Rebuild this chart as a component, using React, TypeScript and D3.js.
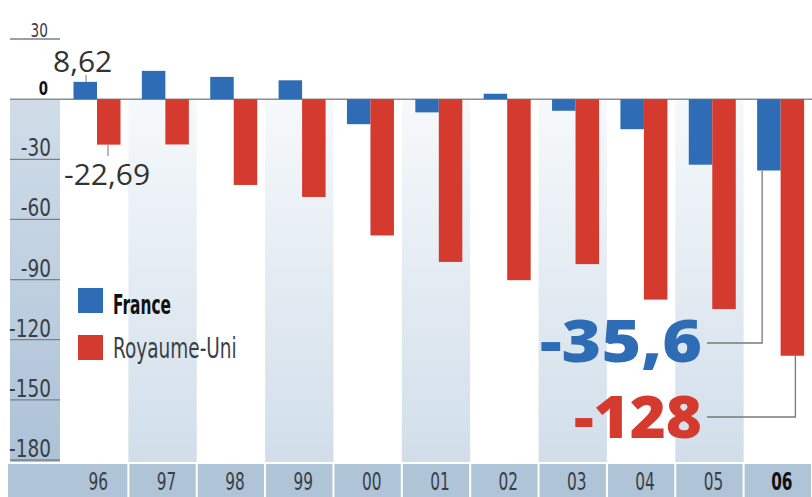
import React from "react";
import * as d3 from "d3";

const years = ["96", "97", "98", "99", "00", "01", "02", "03", "04", "05", "06"];
const france = [8.62, 14.1, 11.1, 9.4, -12.5, -6.6, 2.7, -5.8, -15, -32.7, -35.6];
const royaumeUni = [-22.69, -22.6, -42.8, -48.8, -68, -81.2, -90.3, -82.3, -100, -104.7, -128];
const yTicks = [30, 0, -30, -60, -90, -120, -150, -180];
const seriesNames = ["France", "Royaume-Uni"];

const BLUE = "#2e6db5";
const RED = "#d43b2e";
const FONT = "'DejaVu Sans', sans-serif";

type CondProps = {
  x: number;
  y: number;
  sx: number;
  size: number;
  weight?: number;
  anchor?: "start" | "middle" | "end";
  fill?: string;
  children: React.ReactNode;
};

function Cond({ x, y, sx, size, weight = 400, anchor = "start", fill = "#333", children }: CondProps) {
  return (
    <text
      transform={`translate(${x},${y}) scale(${sx},1)`}
      textAnchor={anchor}
      fontFamily={FONT}
      fontSize={size}
      fontWeight={weight}
      fill={fill}
    >
      {children}
    </text>
  );
}

export default function App() {
  const W = 812;
  const H = 497;
  const x = d3.scaleBand<string>().domain(years).range([60, 812]);
  const step = x.step();
  const xs = d3.scaleBand<string>().domain(seriesNames).range([13.5, 60.5]);
  const y = d3.scaleLinear().domain([30, -180]).range([39, 460]);
  const y0 = y(0);
  const bw = xs.bandwidth();

  const barRect = (v: number) => ({ y: Math.min(y(v), y0), h: Math.abs(y(v) - y0) });

  const lastX = x("06")!;
  const fr06 = france[10];
  const uk06 = royaumeUni[10];
  const axisBottom = y(-180) + 2;

  return (
    <svg width={W} height={H} style={{ position: "absolute", left: 0, top: 0, background: "#fff" }}>
      <defs>
        <linearGradient id="bandGrad" x1="0" y1="0" x2="0" y2="1">
          <stop offset="0" stopColor="#f6f9fb" />
          <stop offset="1" stopColor="#d1deea" />
        </linearGradient>
        <linearGradient id="axisGrad" x1="0" y1="0" x2="0" y2="1">
          <stop offset="0" stopColor="#d0dde9" />
          <stop offset="1" stopColor="#adc2d7" />
        </linearGradient>
      </defs>

      {/* alternating bands */}
      {years.map((yr, i) =>
        i % 2 === 1 ? (
          <rect key={"b" + yr} x={x(yr)!} y={y0} width={step} height={axisBottom - y0} fill="url(#bandGrad)" />
        ) : null
      )}

      {/* left axis column */}
      <rect x={10} y={y0} width={50} height={axisBottom - y0} fill="url(#axisGrad)" />

      {/* tick lines and labels */}
      {yTicks.map((t) => (
        <g key={"t" + t}>
          {t !== 0 && <line x1={10} x2={60} y1={y(t)} y2={y(t)} stroke="#77818b" strokeWidth={1.3} />}
          {t === 0 ? (
            <Cond x={48} y={y(t) - 4} sx={0.7} size={19} weight={700} anchor="end" fill="#111">
              {t}
            </Cond>
          ) : t === 30 ? (
            <Cond x={48} y={y(t) - 2} sx={0.72} size={19} anchor="end" fill="#3a3f45">
              {t}
            </Cond>
          ) : (
            <Cond x={51} y={y(t) - 3} sx={0.74} size={25} anchor="end" fill="#3a3f45">
              {t}
            </Cond>
          )}
        </g>
      ))}

      {/* zero line */}
      <line x1={10} x2={812} y1={y0} y2={y0} stroke="#8a8f94" strokeWidth={1.5} />

      {/* bars */}
      {years.map((yr, i) => {
        const f = barRect(france[i]);
        const u = barRect(royaumeUni[i]);
        return (
          <g key={"g" + yr}>
            <rect x={x(yr)! + xs("France")!} y={f.y} width={bw} height={f.h} fill={BLUE} />
            <rect x={x(yr)! + xs("Royaume-Uni")!} y={u.y} width={bw} height={u.h} fill={RED} />
          </g>
        );
      })}

      {/* x axis row */}
      {years.map((yr, i) => {
        const x0 = i === 0 ? 8 : x(yr)! + 1;
        const x1 = x(yr)! + step - 1;
        return (
          <g key={"x" + yr}>
            <rect x={x0} y={464} width={x1 - x0} height={H - 464} fill="#b0c4d8" />
            <Cond
              x={x(yr)! + step / 2 + 4}
              y={490}
              sx={0.64}
              size={24}
              weight={yr === "06" ? 700 : 400}
              anchor="middle"
              fill={yr === "06" ? "#111" : "#3a3f45"}
            >
              {yr}
            </Cond>
          </g>
        );
      })}

      {/* annotations 96 */}
      <line x1={86} x2={86} y1={75} y2={y(france[0])} stroke="#777" strokeWidth={1} />
      <text x={53} y={72} fontFamily="'Open Sans', sans-serif" fontSize={30} fill="#333">
        8,62
      </text>
      <line x1={108} x2={108} y1={y(royaumeUni[0])} y2={156} stroke="#777" strokeWidth={1} />
      <text x={64} y={185} fontFamily="'Open Sans', sans-serif" fontSize={30} fill="#333">
        -22,69
      </text>

      {/* legend */}
      <rect x={78} y={288} width={25} height={25} fill={BLUE} />
      <Cond x={113} y={314} sx={0.57} size={27} weight={700} fill="#111">
        France
      </Cond>
      <rect x={78} y={335} width={25} height={25} fill={RED} />
      <Cond x={113} y={358} sx={0.66} size={28} fill="#3a3f45">
        Royaume-Uni
      </Cond>

      {/* leader lines for 06 */}
      <polyline
        points={`${lastX + xs("France")! + 5},${y(fr06)} ${lastX + xs("France")! + 5},343 707,343`}
        fill="none"
        stroke="#7a7a7a"
        strokeWidth={1.3}
      />
      <polyline
        points={`${lastX + xs("Royaume-Uni")! + bw / 2 + 3},${y(uk06)} ${lastX + xs("Royaume-Uni")! + bw / 2 + 3},417 707,417`}
        fill="none"
        stroke="#7a7a7a"
        strokeWidth={1.3}
      />
      <text
        x={702}
        y={362}
        textAnchor="end"
        fontFamily="'Open Sans', sans-serif"
        fontWeight={800}
        fontSize={58}
        fill={BLUE}
        textLength={162}
        lengthAdjust="spacingAndGlyphs"
      >
        {String(fr06).replace(".", ",")}
      </text>
      <text
        x={702}
        y={438}
        textAnchor="end"
        fontFamily="'Open Sans', sans-serif"
        fontWeight={800}
        fontSize={58}
        fill={RED}
        textLength={128}
        lengthAdjust="spacingAndGlyphs"
      >
        {String(uk06)}
      </text>
    </svg>
  );
}
